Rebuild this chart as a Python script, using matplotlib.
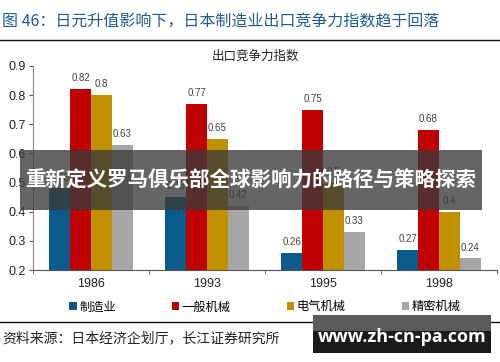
import matplotlib
matplotlib.use("Agg")
import matplotlib.pyplot as plt
import numpy as np
from matplotlib.patches import Rectangle

plt.rcParams['font.family'] = ['Liberation Sans', 'Noto Sans CJK SC', 'DejaVu Sans']

years = ['1986', '1993', '1995', '1998']
series_names = ['制造业', '一般机械', '电气机械', '精密机械']
manufacturing = [0.48, 0.45, 0.26, 0.27]
general_machinery = [0.82, 0.77, 0.75, 0.68]
electrical_machinery = [0.8, 0.65, 0.5, 0.4]
precision_machinery = [0.63, 0.42, 0.33, 0.24]
colors = ['#0a5a8c', '#c00000', '#c09000', '#a6a6a6']

fig = plt.figure(figsize=(5.0, 3.62), dpi=100)
ax = fig.add_axes([0.066, 0.254, 0.928, 0.564])

series = [manufacturing, general_machinery, electrical_machinery, precision_machinery]
x = np.arange(len(years))
w = 0.18
for i, (vals, c, name) in enumerate(zip(series, colors, series_names)):
    pos = x + (i - 1.5) * w
    ax.bar(pos, vals, width=w, color=c, label=name, zorder=2)
    for p, v in zip(pos, vals):
        ax.text(p, v + 0.02, f'{v:g}', ha='center', va='bottom', fontsize=7, color='#404040')

ax.set_ylim(0.2, 0.9)
ax.set_xlim(-0.5, 3.5)
ax.set_yticks(np.arange(0.2, 0.91, 0.1))
ax.set_yticklabels([f'{v:.1f}' for v in np.arange(0.2, 0.91, 0.1)], fontsize=9, color='#222222')
ax.set_xticks(x)
ax.set_xticklabels(years, fontsize=9, color='#222222')
ax.set_xticks(np.arange(-0.5, 3.6, 1), minor=True)
ax.tick_params(axis='x', which='major', length=0, pad=6)
ax.tick_params(axis='x', which='minor', length=3, color='#555555')
ax.tick_params(axis='y', length=3, color='#555555', pad=2)
for s in ['top', 'right']:
    ax.spines[s].set_visible(False)
ax.spines['left'].set_color('#888888')
ax.spines['bottom'].set_color('#555555')

ax.legend(loc='upper center', bbox_to_anchor=(0.5, -0.095), ncol=4, frameon=False,
          handlelength=0.6, handleheight=0.6, handletextpad=0.2,
          columnspacing=4.6, prop={'family': ['Noto Sans CJK SC'], 'size': 8.8})

fig.text(0.004, 0.94, '图 46：日元升值影响下，日本制造业出口竞争力指数趋于回落',
         fontsize=11.5, color='#1f5d8c', family=['Noto Sans CJK SC'], va='center', ha='left')
fig.add_artist(plt.Line2D([0.0, 1.0], [0.89, 0.89], color='#111111', lw=1.0))
fig.text(0.51, 0.843, '出口竞争力指数', fontsize=9, color='#222222',
         family=['Noto Sans CJK SC'], ha='center', va='center')
fig.add_artist(plt.Line2D([0.0, 1.0], [0.111, 0.111], color='#111111', lw=1.0))
fig.text(0.004, 0.066, '资料来源：日本经济企划厅，长江证券研究所', fontsize=10,
         color='#222222', family=['Noto Sans CJK SC'], ha='left', va='center')

# overlay banner
fig.add_artist(Rectangle((0.04, 0.42), 0.924, 0.166, transform=fig.transFigure,
                         facecolor='#3a3a3a', alpha=0.78, edgecolor='none', zorder=5))
fig.text(0.502, 0.503, '重新定义罗马俱乐部全球影响力的路径与策略探索', fontsize=14.8,
         color='white', weight='bold', family=['Noto Sans CJK SC'],
         ha='center', va='center', zorder=6)

# watermark box
fig.add_artist(Rectangle((0.626, 0.025), 0.356, 0.105, transform=fig.transFigure,
                         facecolor='#1a1a1a', edgecolor='none', zorder=5))
fig.add_artist(Rectangle((0.626, 0.085), 0.356, 0.045, transform=fig.transFigure,
                         facecolor='#5a5a5a', edgecolor='none', zorder=5))
fig.text(0.804, 0.07, 'www.zh-cn-pa.com', fontsize=13, color='white', weight='bold',
         family=['Open Sans'], ha='center', va='center', zorder=6)

fig.savefig('out.png', dpi=100)
